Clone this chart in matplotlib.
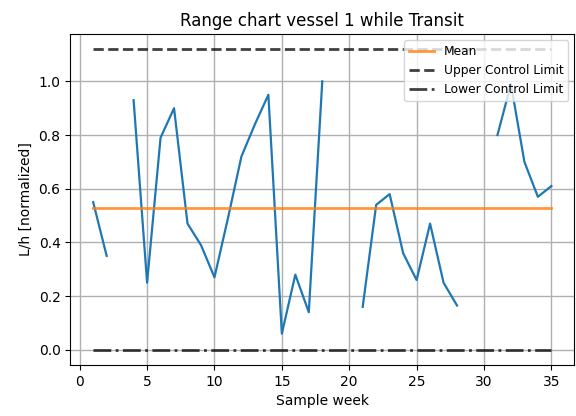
import numpy as np
import matplotlib
matplotlib.use("Agg")
import matplotlib.pyplot as plt

weeks = np.arange(1, 36)
values = [0.55, 0.35, np.nan, 0.93, 0.25, 0.79, 0.90, 0.47, 0.39, 0.27,
          0.49, 0.72, 0.84, 0.95, 0.06, 0.28, 0.14, 1.00, np.nan, np.nan,
          0.16, 0.54, 0.58, 0.36, 0.26, 0.47, 0.25, 0.165, np.nan, np.nan,
          0.80, 0.99, 0.70, 0.57, 0.61]
mean_val = 0.53
ucl = 1.12
lcl = 0.0

fig, ax = plt.subplots(figsize=(5.76, 4.16), dpi=100)
ax.plot(weeks, values, color='tab:blue', linewidth=1.6)
ax.plot(weeks, [mean_val] * len(weeks), color='tab:orange', alpha=0.8,
        linewidth=2, label='Mean')
ax.plot(weeks, [ucl] * len(weeks), color='k', linestyle='--', alpha=0.75,
        linewidth=2, label='Upper Control Limit')
ax.plot(weeks, [lcl] * len(weeks), color='k', linestyle='-.', alpha=0.75,
        linewidth=2, label='Lower Control Limit')
ax.grid(True, color='#b0b0b0', linewidth=1)
ax.set_title("Range chart vessel 1 while Transit")
ax.set_xlabel("Sample week")
ax.set_ylabel("L/h [normalized]")
ax.legend(loc='upper right', fontsize=8.8)
fig.subplots_adjust(left=0.122, right=0.997, top=0.918, bottom=0.123)
fig.savefig("out.png")
